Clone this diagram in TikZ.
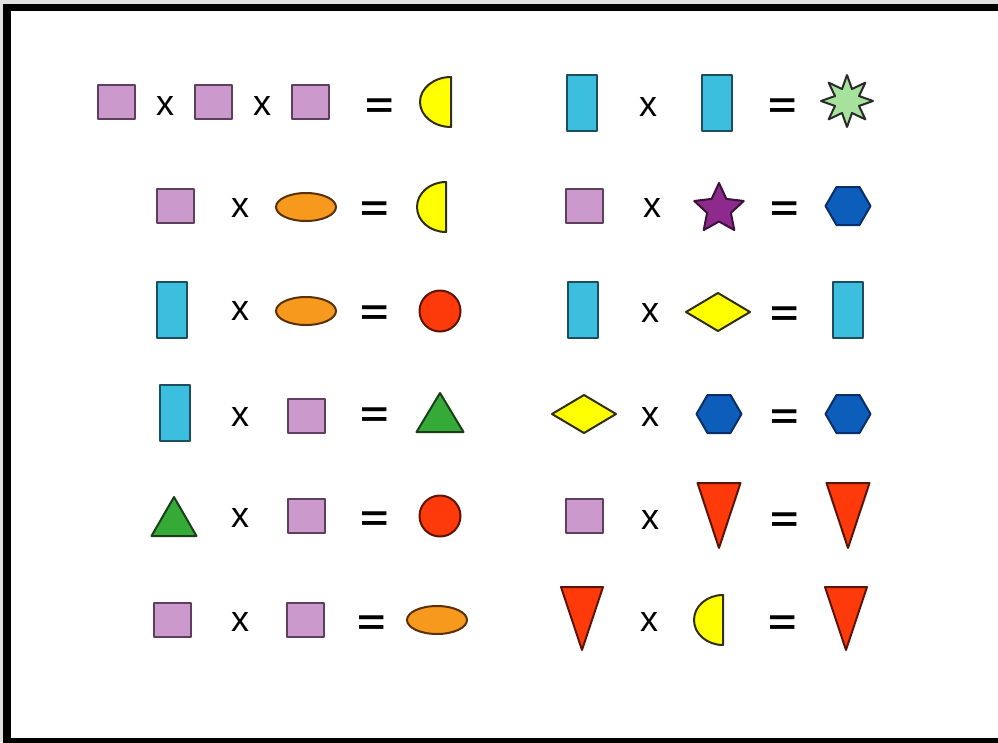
\documentclass[tikz,border=0pt]{standalone}
\usepackage{fontspec}
\usepackage{graphicx}
\newfontfamily\symfont{Liberation Sans}
\definecolor{lavc}{HTML}{CC99CC}\definecolor{lavb}{HTML}{5E405E}
\definecolor{cyac}{HTML}{3CBEDF}\definecolor{cyab}{HTML}{1E4E5E}
\definecolor{yelc}{HTML}{FFFF00}\definecolor{yelb}{HTML}{2E2E10}
\definecolor{orgc}{HTML}{F7991C}\definecolor{orgb}{HTML}{5A3008}
\definecolor{redc}{HTML}{FF3A0A}\definecolor{redb}{HTML}{5A1408}
\definecolor{grnc}{HTML}{36AA36}\definecolor{grnb}{HTML}{1A3E1A}
\definecolor{lgrc}{HTML}{A6E29C}\definecolor{lgrb}{HTML}{2A2A2A}
\definecolor{purc}{HTML}{8E2A8E}\definecolor{purb}{HTML}{3A123A}
\definecolor{bluc}{HTML}{0C5EBA}\definecolor{blub}{HTML}{0A2E66}
\tikzset{
  shp/.style={line width=2pt, line join=round},
  lav/.style={shp, fill=lavc, draw=lavb},
  cya/.style={shp, fill=cyac, draw=cyab},
  yel/.style={shp, fill=yelc, draw=yelb},
  org/.style={shp, fill=orgc, draw=orgb},
  redd/.style={shp, fill=redc, draw=redb},
  grn/.style={shp, fill=grnc, draw=grnb},
  lgr/.style={shp, fill=lgrc, draw=lgrb},
  pur/.style={shp, fill=purc, draw=purb},
  blu/.style={shp, fill=bluc, draw=blub},
  sym/.style={font={\symfont\fontsize{36}{36}\selectfont}, inner sep=0pt, anchor=center},
  eqn/.style={sym, yshift=-5pt},
}
\newcommand\shpSq[2]{\draw[lav, shift={(#1,#2)}] (-18.5,-17) rectangle (18.5,17);}
\newcommand\shpRect[2]{\draw[cya, shift={(#1,#2)}] (-15,-28) rectangle (15,28);}
\newcommand\shpEll[2]{\draw[org] (#1,#2) ellipse[x radius=30pt, y radius=14pt];}
\newcommand\shpCirc[2]{\draw[redd] (#1,#2) circle[radius=20.5pt];}
\newcommand\shpHalf[4]{\draw[yel, shift={(#1,#2)}] (0,-#4) arc[start angle=90, end angle=270, x radius=#3pt, y radius=#4pt] -- cycle;}
\newcommand\shpTri[4]{\draw[grn] (#1,#2) -- (#1+#4,#3) -- (#1-#4,#3) -- cycle;}
\newcommand\shpInv[4]{\draw[redd] (#1-#4,#2) -- (#1+#4,#2) -- (#1,#3) -- cycle;}
\newcommand\shpHex[2]{\draw[blu, shift={(#1,#2)}] (22.5,0) -- (11.5,-19) -- (-11.5,-19) -- (-22.5,0) -- (-11.5,19) -- (11.5,19) -- cycle;}
\newcommand\shpDia[2]{\draw[yel, shift={(#1,#2)}] (32,0) -- (0,-19) -- (-32,0) -- (0,19) -- cycle;}
\newcommand\eqs{\scalebox{1.35}[1]{\bfseries =}}
\begin{document}
\begin{tikzpicture}[x=1pt,y=-1pt]
\useasboundingbox (0,0) rectangle (998,742);
\clip (0,0) rectangle (998,742);
\fill[black!12] (0,0) rectangle (998,742);
\fill[white] (3,4) rectangle (998,742);
\draw[line width=7.5pt] (7,7.5) rectangle (1010,741.5);
% ---------- left column ----------
\shpSq{116}{102} \node[sym] (xa1) at (165,106) {x};
\shpSq{213}{102} \node[sym] (xb1) at (262,106) {x};
\shpSq{310}{102} \node[eqn] (ea1) at (380,103) {\eqs};
\shpHalf{451}{102}{31}{25}
\shpSq{175}{206} \node[sym] (xa2) at (240,208) {x};
\shpEll{306}{207} \node[eqn] (ea2) at (375,206) {\eqs};
\shpHalf{446}{207}{29}{25}
\shpRect{172}{310} \node[sym] (xa3) at (240,311) {x};
\shpEll{306}{311} \node[eqn] (ea3) at (375,310) {\eqs};
\shpCirc{440}{311}
\shpRect{175}{413} \node[sym] (xa4) at (240,417) {x};
\shpSq{306}{416} \node[eqn] (ea4) at (375,412) {\eqs};
\shpTri{440}{393}{432}{23.5}
\shpTri{174}{497}{536}{22.5} \node[sym] (xa5) at (240,518) {x};
\shpSq{306}{516} \node[eqn] (ea5) at (375,516) {\eqs};
\shpCirc{440}{516}
\shpSq{172}{620} \node[sym] (xa6) at (240,622) {x};
\shpSq{305}{620} \node[eqn] (ea6) at (372,620) {\eqs};
\shpEll{437}{620}
% ---------- right column ----------
\shpRect{582}{103} \node[sym] (xr1) at (648,107) {x};
\shpRect{717}{103} \node[eqn] (er1) at (783,103) {\eqs};
\draw[lgr, shift={(847,101)}] (90:26) \foreach \i in {1,...,15} { -- ({90+22.5*\i}:{ifthenelse(mod(\i,2)==0,26,13)}) } -- cycle;
\shpSq{584}{206} \node[sym] (xr2) at (652,208) {x};
\draw[pur, shift={(719,209)}] (270:26) \foreach \i in {1,...,9} { -- ({270+36*\i}:{ifthenelse(mod(\i,2)==0,26,12.5)}) } -- cycle;
\node[eqn] (er2) at (785,206) {\eqs};
\shpHex{848}{206}
\shpRect{583}{310} \node[sym] (xr3) at (650,313) {x};
\shpDia{718}{312} \node[eqn] (er3) at (785,311) {\eqs};
\shpRect{848}{310}
\shpDia{584}{414} \node[sym] (xr4) at (650,417) {x};
\shpHex{719}{414} \node[eqn] (er4) at (785,414) {\eqs};
\shpHex{848}{414}
\shpSq{584}{516} \node[sym] (xr5) at (650,520) {x};
\shpInv{719}{483}{548}{21.5} \node[eqn] (er5) at (785,517) {\eqs};
\shpInv{848}{483}{548}{21.5}
\shpInv{582}{587}{650}{21} \node[sym] (xr6) at (649,622) {x};
\shpHalf{723}{620}{29}{25} \node[eqn] (er6) at (783,620) {\eqs};
\shpInv{846}{587}{650}{21}
\end{tikzpicture}
\end{document}
